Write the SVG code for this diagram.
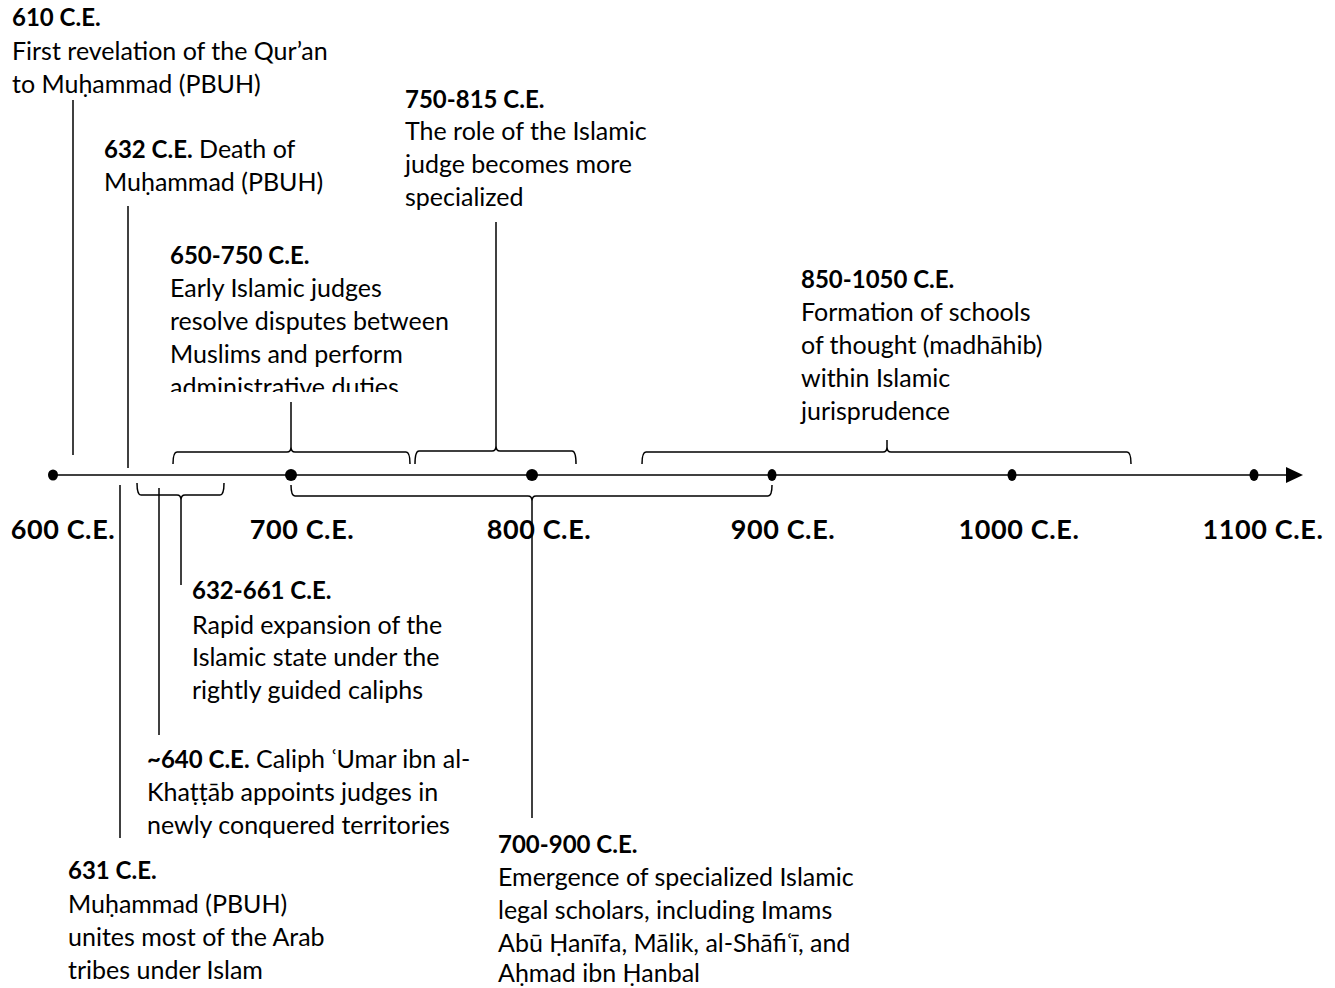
<svg xmlns="http://www.w3.org/2000/svg" width="1335" height="988" viewBox="0 0 1335 988">
<style>
text{font-family:Lato,"Liberation Sans",sans-serif;font-size:25px;fill:#000}
.b{font-weight:bold;font-size:24px}
.ax{font-family:Lato,"Liberation Sans",sans-serif;font-size:27px;font-weight:bold;text-anchor:middle;letter-spacing:0.6px}
.ln{stroke:#000;stroke-width:1.5;fill:none}
.br{stroke:#000;stroke-width:1.5;fill:none}
</style>
<defs>
<marker id="arr" markerWidth="18" markerHeight="18" refX="0" refY="8" markerUnits="userSpaceOnUse" orient="auto">
<path d="M0,0 L17,8 L0,16 Z" fill="#000"/>
</marker>
<clipPath id="clip650"><rect x="160" y="240" width="320" height="152"/></clipPath>
</defs>
<g id="connectors">
<line class="ln" x1="53" y1="475" x2="1286" y2="475" marker-end="url(#arr)"/>
<line class="ln" x1="73" y1="100" x2="73" y2="455"/>
<line class="ln" x1="128" y1="206" x2="128" y2="468"/>
<line class="ln" x1="120" y1="485" x2="120" y2="838"/>
<line class="ln" x1="159" y1="488" x2="159" y2="735"/>
<path class="br" d="M137,483 Q137,495 141,495 L177,495 Q181,495 181,500 Q181,495 185,495 L220,495 Q224,495 224,483"/>
<line class="ln" x1="181" y1="500" x2="181" y2="585"/>
<path class="br" d="M173,464 Q173,452 177,452 L287,452 Q291,452 291,447 Q291,452 295,452 L406,452 Q410,452 410,464"/>
<line class="ln" x1="291" y1="447" x2="291" y2="402"/>
<path class="br" d="M415,464 Q415,451 419,451 L492,451 Q496,451 496,446 Q496,451 500,451 L572,451 Q576,451 576,464"/>
<line class="ln" x1="496" y1="446" x2="496" y2="222"/>
<path class="br" d="M291,485 Q291,496 295,496 L528,496 Q532,496 532,501 Q532,496 536,496 L768,496 Q772,496 772,485"/>
<line class="ln" x1="532" y1="501" x2="532" y2="818"/>
<path class="br" d="M642,464 Q642,452 646,452 L883,452 Q887,452 887,447 Q887,452 891,452 L1127,452 Q1131,452 1131,464"/>
<line class="ln" x1="887" y1="447" x2="887" y2="440"/>
</g>
<g id="ticks">
<ellipse cx="53" cy="475" rx="5" ry="5.5"/>
<circle cx="291" cy="475" r="6"/>
<circle cx="532" cy="475" r="6"/>
<ellipse cx="772" cy="475" rx="4.5" ry="6"/>
<ellipse cx="1012" cy="475" rx="4.5" ry="6"/>
<ellipse cx="1254" cy="475" rx="4.5" ry="6"/>
<text class="ax" x="63" y="539">600 C.E.</text>
<text class="ax" x="302" y="539">700 C.E.</text>
<text class="ax" x="539" y="539">800 C.E.</text>
<text class="ax" x="783" y="539">900 C.E.</text>
<text class="ax" x="1019" y="539">1000 C.E.</text>
<text class="ax" x="1263" y="539">1100 C.E.</text>
</g>
<g id="e610">
<text x="12" y="26" class="b">610 C.E.</text>
<text x="12" y="60">First revelation of the Qur’an</text>
<text x="12" y="93">to Muḥammad (PBUH)</text>
</g>
<g id="e632">
<text x="104" y="158"><tspan class="b">632 C.E.</tspan> Death of</text>
<text x="104" y="191">Muḥammad (PBUH)</text>
</g>
<g id="e750">
<text x="405" y="108" class="b">750-815 C.E.</text>
<text x="405" y="140">The role of the Islamic</text>
<text x="405" y="173">judge becomes more</text>
<text x="405" y="206">specialized</text>
</g>
<g id="e650" clip-path="url(#clip650)">
<text x="170" y="264" class="b">650-750 C.E.</text>
<text x="170" y="297">Early Islamic judges</text>
<text x="170" y="330">resolve disputes between</text>
<text x="170" y="363">Muslims and perform</text>
<text x="170" y="396">administrative duties</text>
</g>
<g id="e850">
<text x="801" y="288" class="b">850-1050 C.E.</text>
<text x="801" y="321">Formation of schools</text>
<text x="801" y="354">of thought (madhāhib)</text>
<text x="801" y="387">within Islamic</text>
<text x="801" y="420">jurisprudence</text>
</g>
<g id="e632-661">
<text x="192" y="599" class="b">632-661 C.E.</text>
<text x="192" y="634">Rapid expansion of the</text>
<text x="192" y="666">Islamic state under the</text>
<text x="192" y="699">rightly guided caliphs</text>
</g>
<g id="e640">
<text x="147" y="768"><tspan class="b">~640 C.E.</tspan> Caliph ʿUmar ibn al-</text>
<text x="147" y="801">Khaṭṭāb appoints judges in</text>
<text x="147" y="834">newly conquered territories</text>
</g>
<g id="e631">
<text x="68" y="879" class="b">631 C.E.</text>
<text x="68" y="913">Muḥammad (PBUH)</text>
<text x="68" y="946">unites most of the Arab</text>
<text x="68" y="979">tribes under Islam</text>
</g>
<g id="e700">
<text x="498" y="853" class="b">700-900 C.E.</text>
<text x="498" y="886">Emergence of specialized Islamic</text>
<text x="498" y="919">legal scholars, including Imams</text>
<text x="498" y="952">Abū Ḥanīfa, Mālik, al-Shāfiʿī, and</text>
<text x="498" y="982">Aḥmad ibn Ḥanbal</text>
</g>
</svg>
